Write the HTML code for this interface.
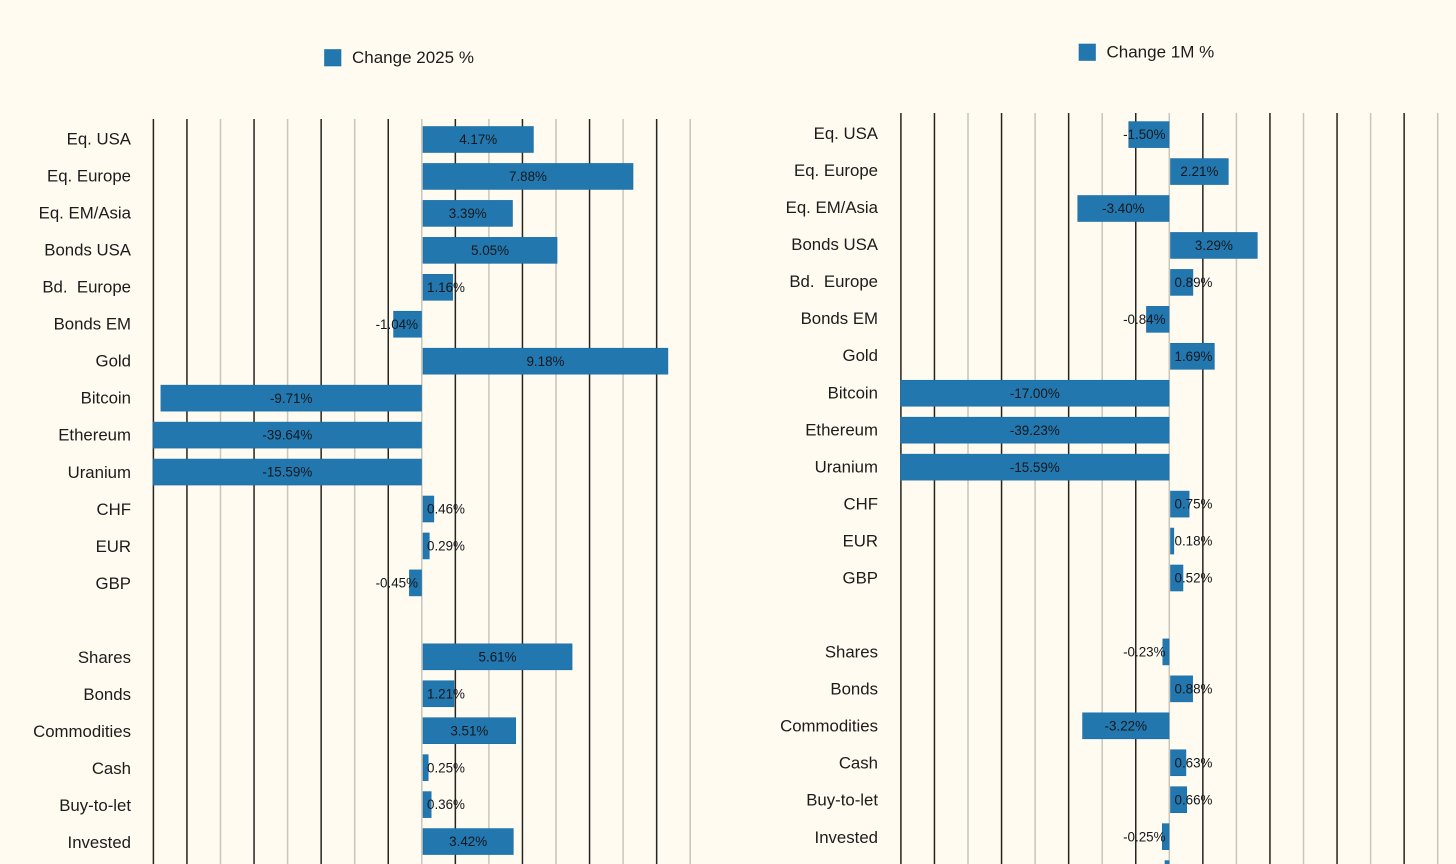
<!DOCTYPE html>
<html lang="en">
<head>
<meta charset="utf-8">
<title>Change 2025 and 1M bar charts</title>
<style>
html,body{margin:0;padding:0;background:#fffbf0;width:1456px;height:864px;overflow:hidden}
svg{display:block;font-family:"Liberation Sans",sans-serif}
</style>
</head>
<body>
<svg id="root" width="1456" height="864" viewBox="0 0 1456 864" xmlns="http://www.w3.org/2000/svg">
<rect width="1456" height="864" fill="#fffbf0"/>
</svg>
<script>
const categories = ["Eq. USA","Eq. Europe","Eq. EM/Asia","Bonds USA","Bd.  Europe","Bonds EM","Gold","Bitcoin","Ethereum","Uranium","CHF","EUR","GBP","","Shares","Bonds","Commodities","Cash","Buy-to-let","Invested",""];
const change2025 = [4.17,7.88,3.39,5.05,1.16,-1.04,9.18,-9.71,-39.64,-15.59,0.46,0.29,-0.45,null,5.61,1.21,3.51,0.25,0.36,3.42,null];
const change1M = [-1.50,2.21,-3.40,3.29,0.89,-0.84,1.69,-17.00,-39.23,-15.59,0.75,0.18,0.52,null,-0.23,0.88,-3.22,0.63,0.66,-0.25,-0.15];
const tickValues = [-10,-8.75,-7.5,-6.25,-5,-3.75,-2.5,-1.25,0,1.25,2.5,3.75,5,6.25,7.5,8.75,10];
const legendLabels = ["Change 2025 %","Change 1M %"];

const NS = "http://www.w3.org/2000/svg";
const root = document.getElementById("root");

function add(parent, tag, attrs, text) {
  const el = document.createElementNS(NS, tag);
  for (const k in attrs) el.setAttribute(k, attrs[k]);
  if (text !== undefined) el.textContent = text;
  parent.appendChild(el);
  return el;
}

function drawChart(cfg) {
  const g = add(root, "g", {});
  
  
  const pxPerUnit = 26.84;
  const domainMin = tickValues[0];
  const domainMax = tickValues[tickValues.length - 1];
  const xScale = v => cfg.zeroX + Math.max(domainMin, Math.min(domainMax, v)) * pxPerUnit;
  const yScale = i => cfg.firstY + i * 36.95;

  tickValues.forEach((t, i) => {
    const major = i === 0 || i === 1 || i % 2 === 1;
    const line = add(g, "line", {
      x1: xScale(t) + 0.3, x2: xScale(t) + 0.3, y1: cfg.gridTop, y2: 864,
      stroke: major ? "#26241f" : "#c8c5bb",
      "stroke-width": major ? 1.5 : 1.5
    });
    
    
  });

  categories.forEach((c, i) => {
    if (!c) return;
    const label = add(g, "text", {
      x: cfg.labelX, y: yScale(i) + cfg.labelDy + i * cfg.labelDrift, "text-anchor": "end",
      "font-size": 16.8, fill: "#1c1c1c", style: "white-space:pre"
    }, c);
    
    
  });

  cfg.values.forEach((v, i) => {
    if (v === null) return;
    const x0 = cfg.zeroX + (v >= 0 ? 1.5 : 0);
    const x1 = xScale(v);
    const left = Math.min(x0, x1);
    const w = Math.abs(x1 - x0);
    const bar = add(g, "rect", {
      x: left, y: yScale(i) - 13, width: w, height: 26,
      fill: "#2277af", stroke: "#1c6fa8", "stroke-width": 0.6
    });
    
    
  });

  cfg.values.forEach((v, i) => {
    if (v === null || !categories[i]) return;
    const x0 = cfg.zeroX + (v >= 0 ? 1.5 : 0);
    const x1 = xScale(v);
    const w = Math.abs(x1 - x0);
    let tx, anchor;
    if (w >= 45) {
      tx = (x0 + x1) / 2;
      anchor = "middle";
    } else if (v >= 0) {
      tx = cfg.zeroX + 5.5;
      anchor = "start";
    } else {
      tx = cfg.zeroX - 3.5;
      anchor = "end";
    }
    const valueLabel = add(g, "text", {
      x: tx, y: yScale(i) + 4.6, "text-anchor": anchor,
      "font-size": 13.4, fill: "#14181c"
    }, v.toFixed(2) + "%");
    
    
  });

  const legend = add(g, "g", {});
  
  
  add(legend, "rect", {
    x: cfg.legendX, y: cfg.legendY, width: 16.5, height: 16.5,
    fill: "#2277af", stroke: "#1c6fa8", "stroke-width": 0.6
  });
  add(legend, "text", {
    x: cfg.legendX + 27.5, y: cfg.legendY + 13.5, "font-size": 17, fill: "#1c1c1c"
  }, cfg.legend);
}

drawChart({
  name: "change-2025-chart", values: change2025, legend: legendLabels[0],
  zeroX: 421.5, firstY: 139.5, gridTop: 119, labelX: 131,
  labelDy: 5, labelDrift: 0.08,
  legendX: 324.5, legendY: 49.5
});
drawChart({
  name: "change-1m-chart", values: change1M, legend: legendLabels[1],
  zeroX: 1169, firstY: 134.6, gridTop: 113, labelX: 878,
  labelDy: 4.4, labelDrift: 0.09,
  legendX: 1079, legendY: 44
});
</script>
</body>
</html>
